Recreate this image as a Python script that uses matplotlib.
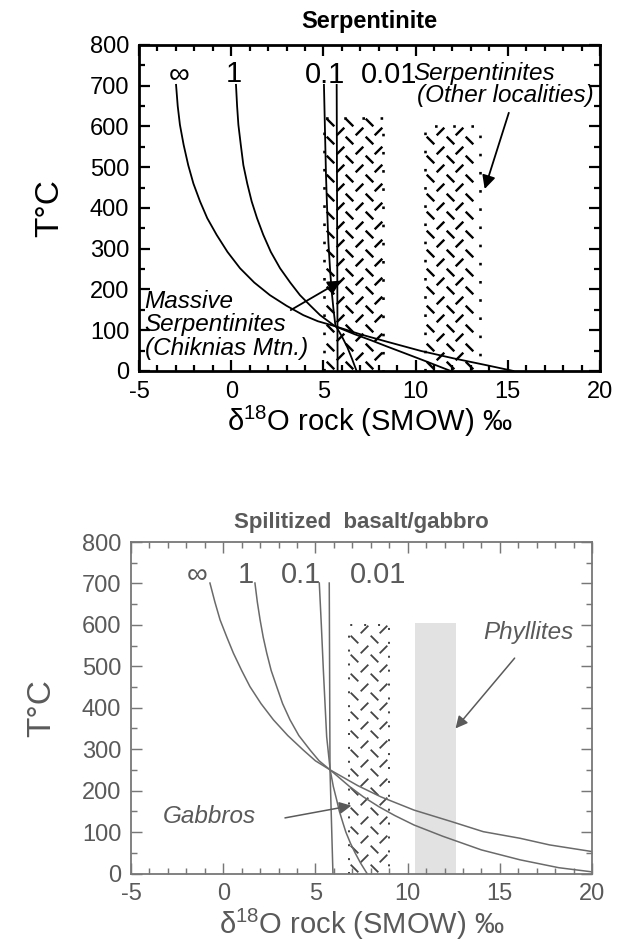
"""
Serpentinite / spilitized basalt W/R exchange curves
"""

import numpy as np
import matplotlib
matplotlib.use("Agg")
import matplotlib.pyplot as plt
from matplotlib.path import Path
from matplotlib.ticker import MultipleLocator

plt.rcParams["font.family"] = ["Liberation Sans", "DejaVu Sans"]
plt.rcParams["mathtext.fontset"] = "custom"
plt.rcParams["mathtext.rm"] = "Liberation Sans"
plt.rcParams["mathtext.default"] = "regular"
plt.rcParams["axes.unicode_minus"] = False

# ----------------------------------------------------------------------
# Data (x = d18O rock, T = temperature)
# ----------------------------------------------------------------------

# top panel: Serpentinite
serp_inf_x = [-2.99, -2.9, -2.78, -2.58, -2.33, -2.05, -1.69, -1.3, -0.79, -0.2,
              0.48, 1.25, 2.1, 3.0, 3.91, 4.7, 5.62, 7.0, 8.43, 10.3, 12.05,
              13.86, 15.3]
serp_inf_T = [702, 650, 604, 555, 505, 460, 416, 375, 334, 292,
              252, 217, 186, 160, 137, 122, 110, 90, 72, 49, 31,
              14, 0]
serp_one_x = [0.26, 0.32, 0.39, 0.52, 0.66, 0.87, 1.11, 1.4, 1.74, 2.15,
              2.65, 3.2, 3.73, 4.3, 4.82, 5.62, 6.7, 7.6, 8.45, 9.5,
              10.6, 11.9]
serp_one_T = [702, 650, 604, 555, 505, 460, 416, 375, 334, 292,
              252, 217, 186, 160, 137, 110, 90, 75, 60, 42,
              23, 0]
serp_p1_x = [5.03, 5.08, 5.14, 5.2, 5.27, 5.36, 5.45, 5.55, 5.65, 6.0, 6.3,
             6.55, 6.8]
serp_p1_T = [702, 600, 481, 400, 317, 250, 195, 150, 112, 85, 58, 30, 0]
serp_p01_x = [5.72, 5.77]
serp_p01_T = [702, 0]

serp_wr_labels = ["\u221e", "1", "0.1", "0.01"]
serp_wr_x = [-2.8, 0.15, 5.1, 8.55]
serp_wr_T = [726, 728, 725, 725]

# hatched fields: (x from, x to, top T)
serp_fields = [(5.05, 8.25, 620), (10.5, 13.5, 600)]

# bottom panel: Spilitized basalt/gabbro
spil_inf_x = [-0.72, -0.45, -0.17, 0.2, 0.55, 1.0, 1.45, 2.05, 2.72, 3.5,
              4.34, 5.0, 5.8, 7.3, 8.55, 10.35, 12.4, 14.1, 16.1, 17.7, 20.0]
spil_inf_T = [701, 655, 612, 570, 532, 490, 451, 410, 371, 333,
              298, 272, 250, 212, 185, 153, 125, 101, 85, 69, 53]
spil_one_x = [1.72, 1.85, 2.0, 2.17, 2.36, 2.6, 2.9, 3.22, 3.62, 4.1,
              4.71, 5.2, 5.8, 6.85, 7.6, 8.45, 9.3, 10.35, 11.9, 14.0,
              16.1, 18.2, 20.0]
spil_one_T = [701, 655, 612, 570, 532, 490, 451, 410, 371, 333,
              298, 272, 250, 210, 185, 161, 140, 117, 90, 57,
              33, 14, 4]
spil_p1_x = [5.21, 5.32, 5.43, 5.52, 5.61, 5.8, 5.97, 6.15, 6.3, 6.5,
             6.65, 6.9, 7.15, 7.45, 7.8]
spil_p1_T = [701, 600, 491, 410, 330, 250, 210, 178, 150, 121,
             100, 73, 50, 25, 0]
spil_p01_x = [5.75, 5.79, 5.95]
spil_p01_T = [701, 250, 0]

spil_wr_labels = ["\u221e", "1", "0.1", "0.01"]
spil_wr_x = [-1.4, 1.2, 4.2, 8.4]
spil_wr_T = [721, 721, 721, 721]

spil_hatch_field = (6.8, 9.0, 600)
spil_phyllite_field = (10.4, 12.6, 605)

SLASH = Path([(-1, -1), (1, 1)], [Path.MOVETO, Path.LINETO])
BSLASH = Path([(-1, 1), (1, -1)], [Path.MOVETO, Path.LINETO])


def draw_hatch_field(ax, x0, x1, top, color, lw, ms):
    # rows of short dashes, direction flips every row (herringbone look)
    step_x, step_y = 1.05, 23
    for i, y in enumerate(np.arange(14, top - 6, step_y)):
        shift = 0.3 if i % 2 == 0 else 0.3 + step_x / 2
        xs = np.arange(x0 + shift, x1 - 0.15, step_x)
        ax.plot(xs, np.full(len(xs), y), linestyle="none",
                marker=BSLASH if i % 2 == 0 else SLASH, markersize=ms,
                markeredgewidth=lw, color=color)
    ax.plot([x0, x0, x1, x1], [0, top, top, 0], linestyle=(0, (1, 6)),
            color=color, lw=lw * 1.1)


def style_axes(ax, color, spine_w, label_color):
    ax.set_xlim(-5, 20)
    ax.set_ylim(0, 800)
    ax.xaxis.set_major_locator(MultipleLocator(5))
    ax.xaxis.set_minor_locator(MultipleLocator(1))
    ax.yaxis.set_major_locator(MultipleLocator(100))
    ax.yaxis.set_minor_locator(MultipleLocator(50))
    ax.tick_params(which="both", direction="in", top=True, right=True,
                   color=color, width=spine_w * 0.8, labelsize=17,
                   labelcolor=label_color)
    ax.tick_params(which="major", length=8, pad=7)
    ax.tick_params(which="minor", length=4)
    for s in ax.spines.values():
        s.set_linewidth(spine_w)
        s.set_color(color)
    ax.set_xlabel("\u03b4$^{18}$O rock (SMOW) \u2030", fontsize=21,
                  color=label_color, labelpad=1)
    ax.set_ylabel("T\u00b0C", fontsize=24, color=label_color, labelpad=18)


fig = plt.figure(figsize=(6.23, 9.42), dpi=100)

# ----------------------------------------------------------------------
# Serpentinite
# ----------------------------------------------------------------------
ax1 = fig.add_axes([0.2231, 0.6062, 0.740, 0.3461])
k = "black"
for x0, x1, top in serp_fields:
    draw_hatch_field(ax1, x0, x1, top, k, 1.7, 5.5)
for xs, ts in [(serp_inf_x, serp_inf_T), (serp_one_x, serp_one_T),
               (serp_p1_x, serp_p1_T), (serp_p01_x, serp_p01_T)]:
    ax1.plot(xs, ts, color=k, lw=1.3)
for lab, x, t in zip(serp_wr_labels, serp_wr_x, serp_wr_T):
    ax1.text(x, t, lab, ha="center", va="center", fontsize=21, color=k)

for line, t in zip(["Massive", "Serpentinites", "(Chiknias Mtn.)"], [170, 113, 56]):
    ax1.text(-4.7, t, line, style="italic", fontsize=17.5, ha="left",
             va="center", color=k)
ax1.text(9.85, 730, "Serpentinites", style="italic", fontsize=17.5,
         ha="left", va="center", color=k)
ax1.text(10.1, 677, "(Other localities)", style="italic", fontsize=17.5,
         ha="left", va="center", color=k)
ax1.annotate("", xy=(6.1, 225), xytext=(3.1, 146),
             arrowprops=dict(arrowstyle="-|>", color=k, lw=1.3, mutation_scale=20))
ax1.annotate("", xy=(13.7, 440), xytext=(15.1, 640),
             arrowprops=dict(arrowstyle="-|>", color=k, lw=1.3, mutation_scale=20))

style_axes(ax1, k, 2.0, k)
ax1.set_title("Serpentinite", fontsize=17, fontweight="bold", pad=12)

# ----------------------------------------------------------------------
# Spilitized basalt/gabbro
# ----------------------------------------------------------------------
ax2 = fig.add_axes([0.2103, 0.0727, 0.740, 0.3519])
g = "#5a5a5a"
gl = "#6a6a6a"
px0, px1, ptop = spil_phyllite_field
ax2.fill_between([px0, px1], 0, ptop, color="#e2e2e2", lw=0)
hx0, hx1, htop = spil_hatch_field
draw_hatch_field(ax2, hx0, hx1, htop, "#444444", 1.3, 5.5)
for xs, ts in [(spil_inf_x, spil_inf_T), (spil_one_x, spil_one_T),
               (spil_p1_x, spil_p1_T), (spil_p01_x, spil_p01_T)]:
    ax2.plot(xs, ts, color=gl, lw=1.1)
for lab, x, t in zip(spil_wr_labels, spil_wr_x, spil_wr_T):
    ax2.text(x, t, lab, ha="center", va="center", fontsize=21, color=g)

ax2.text(-3.3, 137, "Gabbros", style="italic", fontsize=17.5,
         ha="left", va="center", color=g)
ax2.text(14.1, 581, "Phyllites", style="italic", fontsize=17.5,
         ha="left", va="center", color=g)
ax2.annotate("", xy=(7.1, 165), xytext=(3.2, 133),
             arrowprops=dict(arrowstyle="-|>", color=g, lw=1.1, mutation_scale=18))
ax2.annotate("", xy=(12.5, 345), xytext=(15.9, 525),
             arrowprops=dict(arrowstyle="-|>", color=g, lw=1.1, mutation_scale=18))

style_axes(ax2, "#777777", 1.3, g)
ax2.set_title("Spilitized  basalt/gabbro", fontsize=16, fontweight="bold",
              color=g, pad=10)

fig.savefig("out.png", dpi=100)
plt.close(fig)
